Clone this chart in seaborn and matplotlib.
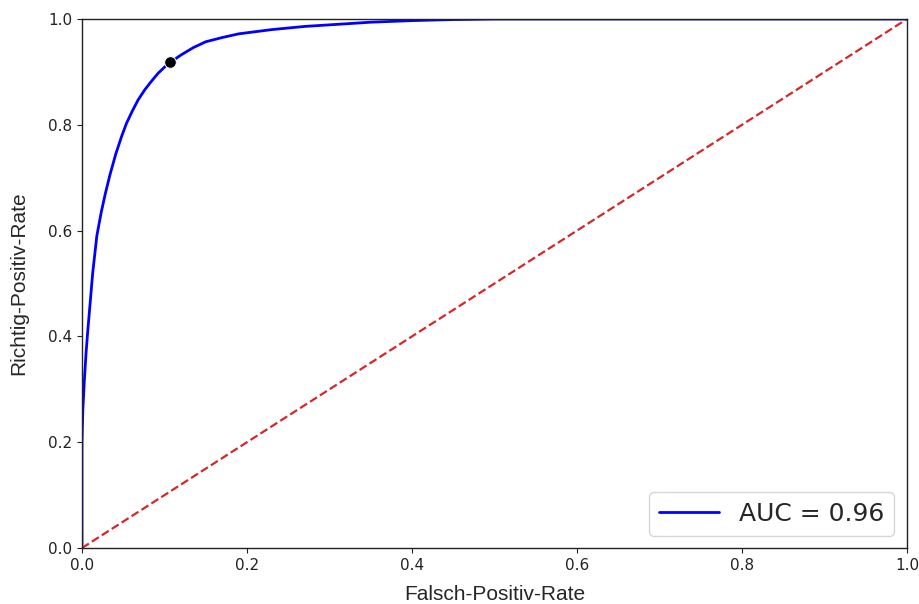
import matplotlib
matplotlib.use("Agg")
import matplotlib.pyplot as plt
import seaborn as sns
import pandas as pd

# ROC curve points (false positive rate, true positive rate)
fpr = [0.0, 0.0, 0.001, 0.003, 0.005, 0.007, 0.010, 0.013, 0.018, 0.023,
       0.028, 0.034, 0.041, 0.048, 0.054, 0.061, 0.068, 0.076, 0.084, 0.092,
       0.100, 0.107, 0.120, 0.135, 0.150, 0.170, 0.190, 0.230, 0.270, 0.310,
       0.350, 0.400, 0.450, 0.500, 0.600, 0.700, 0.800, 0.900, 1.0]
tpr = [0.0, 0.20, 0.26, 0.32, 0.37, 0.41, 0.465, 0.52, 0.59, 0.632,
       0.668, 0.706, 0.745, 0.778, 0.803, 0.826, 0.847, 0.866, 0.882, 0.897,
       0.909, 0.918, 0.932, 0.946, 0.957, 0.965, 0.972, 0.980, 0.986, 0.990,
       0.994, 0.997, 0.999, 1.0, 1.0, 1.0, 1.0, 1.0, 1.0]

# chance diagonal
chance = [0.0, 1.0]

# selected operating point
best_fpr = [0.107]
best_tpr = [0.918]

auc_label = "AUC = 0.96"

sns.set_style("ticks")
plt.rcParams["font.family"] = ["DejaVu Sans"]

fig = plt.figure(figsize=(9.19, 6.04), dpi=100)
ax = fig.add_axes([0.0892, 0.0927, 0.8977, 0.8758])

roc = pd.DataFrame({"fpr": fpr, "tpr": tpr})
sns.lineplot(data=roc, x="fpr", y="tpr", sort=False, estimator=None,
             color="blue", linewidth=2, label=auc_label, ax=ax)
sns.lineplot(x=chance, y=chance, color="#d62728", linestyle="--",
             linewidth=1.6, ax=ax, legend=False)
sns.scatterplot(x=best_fpr, y=best_tpr, color="black", s=70, zorder=5,
                ax=ax, legend=False)

ax.set_xlim(0, 1)
ax.set_ylim(0, 1)
ax.set_xticks([0.0, 0.2, 0.4, 0.6, 0.8, 1.0])
ax.set_yticks([0.0, 0.2, 0.4, 0.6, 0.8, 1.0])
ax.tick_params(labelsize=11, colors="#222222")
for s in ax.spines.values():
    s.set_color("#222222")
    s.set_linewidth(1.0)

ax.set_xlabel("Falsch-Positiv-Rate", fontsize=15, family="Liberation Sans",
              labelpad=9)
ax.set_ylabel("Richtig-Positiv-Rate", fontsize=15, family="Liberation Sans",
              labelpad=14)

ax.legend(loc="lower right", fontsize=18, handlelength=2.4)

fig.savefig("out.png", dpi=100)
